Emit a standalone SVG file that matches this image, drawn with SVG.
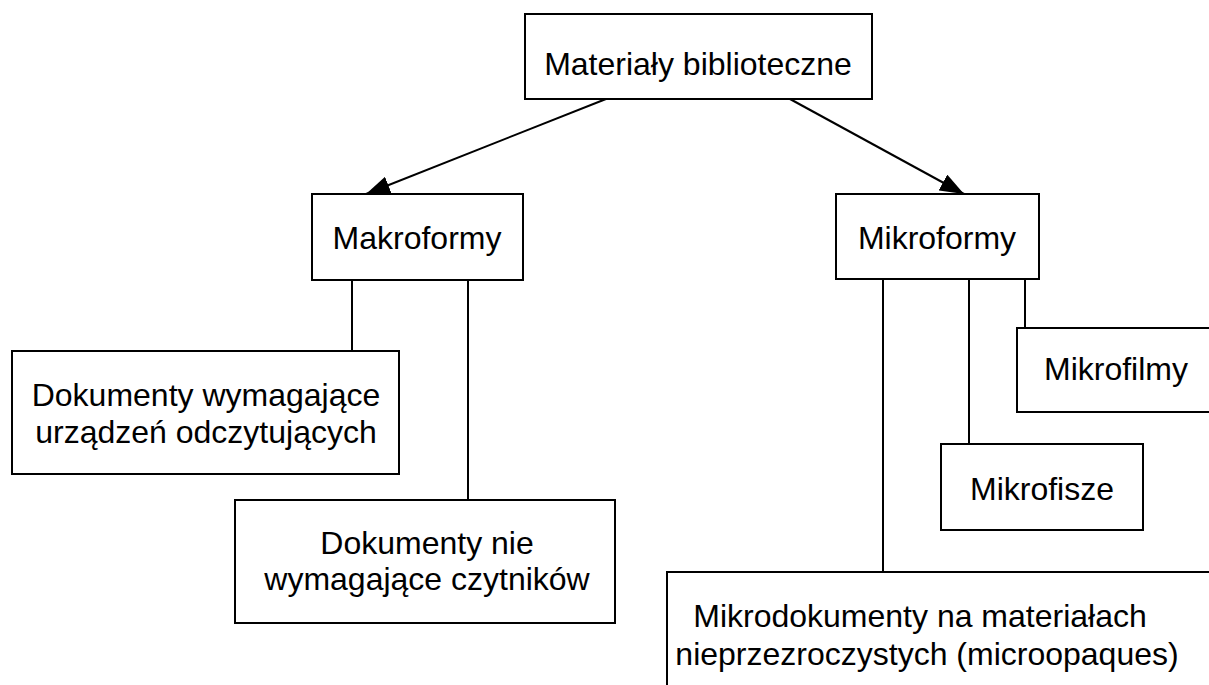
<svg xmlns="http://www.w3.org/2000/svg" width="1209" height="685" viewBox="0 0 1209 685">
<style>
.box{fill:#fff;stroke:#000;stroke-width:2}
.t{font-family:"Liberation Sans",Arial,sans-serif;font-size:32px;fill:#000;text-anchor:middle}
.c{stroke:#000;stroke-width:2;fill:none}
</style>
<defs>
<marker id="ah" viewBox="0 0 24 18" refX="24" refY="9" markerWidth="24" markerHeight="18" markerUnits="userSpaceOnUse" orient="auto">
<path d="M0,0 L24,9 L0,18 Z" fill="#000"/>
</marker>
</defs>
<rect width="1209" height="685" fill="#fff"/>
<g id="connectors">
<line class="c" x1="606" y1="99" x2="366" y2="194" marker-end="url(#ah)"/>
<line class="c" x1="790" y1="99" x2="964" y2="194" marker-end="url(#ah)"/>
<line class="c" x1="352" y1="280" x2="352" y2="351"/>
<line class="c" x1="468" y1="280" x2="468" y2="500"/>
<line class="c" x1="883" y1="279" x2="883" y2="572"/>
<line class="c" x1="969" y1="279" x2="969" y2="444"/>
<line class="c" x1="1025" y1="279" x2="1025" y2="328"/>
</g>
<g id="materialy">
<rect class="box" x="525" y="14" width="347" height="85"/>
<text class="t" x="698" y="75">Materiały biblioteczne</text>
</g>
<g id="makroformy">
<rect class="box" x="312" y="194" width="211" height="86"/>
<text class="t" x="417" y="249">Makroformy</text>
</g>
<g id="mikroformy">
<rect class="box" x="836" y="194" width="203" height="85"/>
<text class="t" x="937" y="249">Mikroformy</text>
</g>
<g id="dok-wymagajace">
<rect class="box" x="12" y="351" width="387" height="123"/>
<text class="t" x="206" y="406">Dokumenty wymagające</text>
<text class="t" x="206" y="443">urządzeń odczytujących</text>
</g>
<g id="dok-nie-wymagajace">
<rect class="box" x="235" y="500" width="380" height="123"/>
<text class="t" x="427" y="554">Dokumenty nie</text>
<text class="t" x="427" y="590">wymagające czytników</text>
</g>
<g id="mikrofilmy">
<rect class="box" x="1017" y="328" width="200" height="84"/>
<text class="t" x="1116" y="380">Mikrofilmy</text>
</g>
<g id="mikrofisze">
<rect class="box" x="941" y="444" width="202" height="86"/>
<text class="t" x="1042" y="500">Mikrofisze</text>
</g>
<g id="mikrodokumenty">
<rect class="box" x="667" y="572" width="560" height="130"/>
<text class="t" x="920" y="627">Mikrodokumenty na materiałach</text>
<text class="t" x="927" y="665">nieprzezroczystych (microopaques)</text>
</g>
</svg>
